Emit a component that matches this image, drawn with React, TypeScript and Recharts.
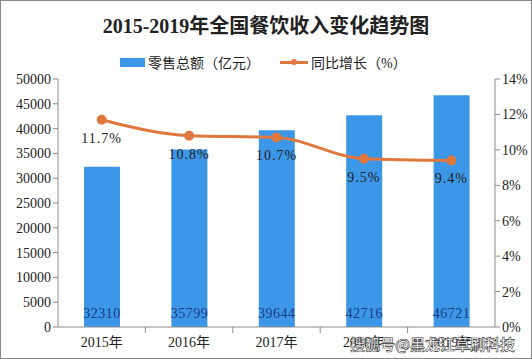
import React from 'react';
import { Bar, ComposedChart, LabelList, Line, XAxis, YAxis } from 'recharts';

const years = ['2015年', '2016年', '2017年', '2018年', '2019年'];
const retail = [32310, 35799, 39644, 42716, 46721];
const growth = [11.7, 10.8, 10.7, 9.5, 9.4];
const leftTicks = [0, 5000, 10000, 15000, 20000, 25000, 30000, 35000, 40000, 45000, 50000];
const rightTicks = [0, 2, 4, 6, 8, 10, 12, 14];

const data = years.map((year, i) => ({ year, retail: retail[i], growth: growth[i] }));

const FONT = "'Liberation Serif', 'Noto Sans CJK SC', serif";
const BAR = '#3c97e8';
const LINE = '#e0773e';
const AXIS = '#8c8c8c';

const XTick = (props) => {
  const { x, y, payload, index } = props;
  return (
    <g>
      {index < years.length - 1 && (
        <line x1={x + 43.7} y1={y - 8} x2={x + 43.7} y2={y - 2} stroke={AXIS} />
      )}
      <text x={x} y={y + 12} textAnchor="middle" fontSize={14} fill="#222" fontFamily={FONT}>
        {payload.value}
      </text>
    </g>
  );
};

const BarValue = (props) => {
  const { x, y, width, height, value } = props;
  return (
    <text
      x={x + width / 2}
      y={y + height - 9}
      textAnchor="middle"
      fontSize={14}
      letterSpacing={0.5}
      fill="#1d3a86"
      fontFamily={FONT}
    >
      {value}
    </text>
  );
};

const App = () => {
  return (
    <div
      style={{
        position: 'absolute',
        left: 0,
        top: 0,
        width: 532,
        height: 359,
        background: '#fff',
        border: '1px solid #888',
        boxSizing: 'border-box',
        fontFamily: FONT,
      }}
    >
      <div
        style={{
          position: 'absolute',
          top: 9,
          left: 0,
          width: 530,
          textAlign: 'center',
          fontSize: 20,
          fontWeight: 'bold',
          color: '#222',
        }}
      >
        2015-2019年全国餐饮收入变化趋势图
      </div>
      <div style={{ position: 'absolute', top: 51, left: 119, fontSize: 14, color: '#222', display: 'flex', alignItems: 'center' }}>
        <span style={{ display: 'inline-block', width: 25, height: 9, background: BAR, marginRight: 3 }} />
        <span>零售总额（亿元）</span>
        <span style={{ display: 'inline-block', width: 28, height: 3, background: LINE, marginLeft: 20, marginRight: 3, position: 'relative' }}>
          <span style={{ position: 'absolute', left: 11, top: -2, width: 6, height: 6, borderRadius: 3, background: LINE }} />
        </span>
        <span>同比增长（%）</span>
      </div>
      <div style={{ position: 'absolute', left: -1, top: -1 }}>
        <ComposedChart
          width={532}
          height={359}
          data={data}
          margin={{ top: 79, right: 0, bottom: 0, left: 0 }}
        >
          <XAxis
            dataKey="year"
            height={32}
            stroke={AXIS}
            tickLine={false}
            tick={<XTick />}
            interval={0}
          />
          <YAxis
            yAxisId="left"
            width={58}
            domain={[0, 50000]}
            ticks={leftTicks}
            stroke={AXIS}
            tickSize={5}
            tick={{ fontSize: 14, fill: '#222', fontFamily: FONT }}
            interval={0}
          />
          <YAxis
            yAxisId="right"
            orientation="right"
            width={37}
            domain={[0, 14]}
            ticks={rightTicks}
            stroke={AXIS}
            tickSize={5}
            tickFormatter={(v) => `${v}%`}
            tick={{ fontSize: 14, fill: '#222', fontFamily: FONT }}
            interval={0}
          />
          <Bar yAxisId="left" dataKey="retail" fill={BAR} barSize={36} isAnimationActive={false}>
            <LabelList dataKey="retail" content={<BarValue />} />
          </Bar>
          <Line
            yAxisId="right"
            type="monotone"
            dataKey="growth"
            stroke={LINE}
            strokeWidth={3}
            dot={{ r: 3.5, fill: LINE, stroke: LINE }}
            isAnimationActive={false}
          >
            <LabelList
              dataKey="growth"
              position="bottom"
              offset={13}
              formatter={(v) => `${v}%`}
              style={{ fontSize: 14, fill: '#222', fontFamily: FONT, letterSpacing: 1 }}
            />
          </Line>
        </ComposedChart>
      </div>
      <div
        style={{
          position: 'absolute',
          left: 349,
          top: 332,
          fontSize: 15,
          color: '#fff',
          fontFamily: "'Noto Sans CJK SC', sans-serif",
          WebkitTextStroke: '0.6px #333',
          fontWeight: 'bold',
        }}
      >
        搜狐号@黑龙江草刷科技
      </div>
    </div>
  );
};

export default App;
